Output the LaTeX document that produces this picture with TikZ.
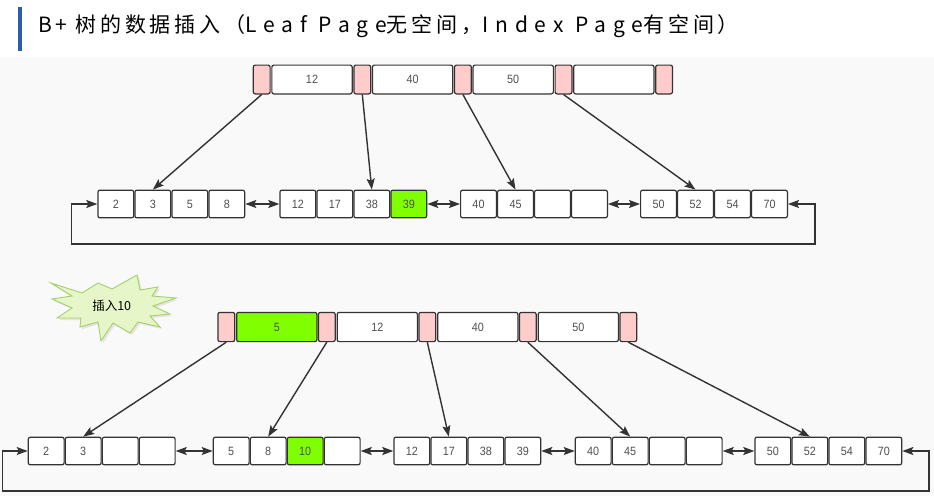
\documentclass[tikz,border=0pt]{standalone}
\usepackage{fontspec}
\setmainfont{Liberation Sans}
\newfontfamily\tcjk[LetterSpace=18]{Noto Sans CJK SC}
\newfontfamily\tlat[LetterSpace=33]{Noto Sans CJK SC}
\newfontfamily\cjk{Noto Sans CJK SC}
\newfontfamily\numfont[FakeStretch=0.9]{Liberation Sans}
\usetikzlibrary{arrows.meta}
\definecolor{bord}{HTML}{333333}
\definecolor{ptrpink}{HTML}{FFCCCC}
\definecolor{lime}{HTML}{80FF00}
\definecolor{txt}{HTML}{505050}
\definecolor{bg}{HTML}{F9F9F9}
\definecolor{titleblue}{HTML}{2B5CAF}
\definecolor{starfill}{HTML}{E6F6C8}
\definecolor{starline}{HTML}{A5CF6A}
\tikzset{
  cellbase/.style={draw=bord, line width=1.2pt, rounded corners=2pt, minimum height=28.8pt,
    inner sep=0pt, font=\numfont\fontsize{12}{12}\selectfont, text=txt},
  ptr/.style={cellbase, fill=ptrpink, minimum width=16.8pt},
  keybox/.style={cellbase, fill=white, minimum width=80.3pt},
  leafcell/.style={cellbase, fill=white, minimum width=35.8pt, minimum height=27.6pt},
  hot/.style={fill=lime},
  tip/.tip={Stealth[length=11pt,width=8pt,inset=2pt]},
  link/.style={draw=bord, line width=1.4pt, -tip},
  dlink/.style={draw=bord, line width=1.4pt, tip-tip},
}
\begin{document}
\begin{tikzpicture}[x=1pt,y=-1pt]
\useasboundingbox (0,0) rectangle (934,496);
\fill[white] (0,0) rectangle (934,57);
\fill[bg] (0,57) rectangle (934,496);
% title
\fill[titleblue] (18,7) rectangle (22,51);
\node[anchor=base west, inner sep=0pt, text=black] (title) at (38,32.5)
  {\fontsize{21}{21}\selectfont\tlat B\hspace{4pt}+\hspace{8pt}\tcjk 树的数据插入（\tlat Leaf Page\tcjk 无空间，\tlat Index Page\tcjk 有空间）};

% ---------- top index page ----------
\node[ptr] (tp1) at (261.7,79.5) {};
\node[keybox] (tk1) at (312.0,79.5) {12};
\node[ptr] (tp2) at (362.3,79.5) {};
\node[keybox] (tk2) at (412.6,79.5) {40};
\node[ptr] (tp3) at (462.9,79.5) {};
\node[keybox] (tk3) at (513.2,79.5) {50};
\node[ptr] (tp4) at (563.5,79.5) {};
\node[keybox] (tk4) at (613.8,79.5) {};
\node[ptr] (tp5) at (664.1,79.5) {};

% ---------- top leaves ----------
\node[leafcell] (ta1) at (115.8,204) {2};
\node[leafcell] (ta2) at (152.8,204) {3};
\node[leafcell] (ta3) at (189.8,204) {5};
\node[leafcell] (ta4) at (226.8,204) {8};
\node[leafcell] (tb1) at (297.8,204) {12};
\node[leafcell] (tb2) at (334.8,204) {17};
\node[leafcell] (tb3) at (371.8,204) {38};
\node[leafcell,hot] (tb4) at (408.8,204) {39};
\node[leafcell] (tc1) at (478.5,204) {40};
\node[leafcell] (tc2) at (515.5,204) {45};
\node[leafcell] (tc3) at (552.5,204) {};
\node[leafcell] (tc4) at (589.5,204) {};
\node[leafcell] (td1) at (658.5,204) {50};
\node[leafcell] (td2) at (695.5,204) {52};
\node[leafcell] (td3) at (732.5,204) {54};
\node[leafcell] (td4) at (769.5,204) {70};

\draw[link] (tp1.south) -- (ta2.north);
\draw[link] (tp2.south) -- (tb3.north);
\draw[link] (tp3.south) -- (tc2.north);
\draw[link] (tp4.south) -- (td2.north);
\draw[dlink] (ta4.east) -- (tb1.west);
\draw[dlink] (tb4.east) -- (tc1.west);
\draw[dlink] (tc4.east) -- (td1.west);
\coordinate (tl) at ([xshift=-25.6pt]ta1.west);
\coordinate (tr) at ([xshift=27pt]td4.east);
\draw[dlink] (ta1.west) -- (tl) -- ++(0,40) -| (tr) -- (td4.east);

% ---------- star ----------
\fill[black!25, opacity=0.35] (53,285) -- (84,295) -- (100,285) -- (114,291) -- (139,277) -- (142,292)
  -- (160,289) -- (154,298) -- (178,300) -- (155,308) -- (172,316) -- (152,318) -- (162,329)
  -- (140,324) -- (132,335) -- (115,325) -- (103,343) -- (100,324) -- (82,329) -- (83,320)
  -- (59,320) -- (74,310) -- (54,301) -- (74,298) -- cycle;
\draw[starline, fill=starfill, line width=0.9pt, line join=miter]
  (51,283) -- (82,293) -- (98,283) -- (112,289) -- (137,275) -- (140,290)
  -- (158,287) -- (152,296) -- (176,298) -- (153,306) -- (170,314) -- (150,316) -- (160,327)
  -- (138,322) -- (130,333) -- (113,323) -- (101,341) -- (98,322) -- (80,327) -- (81,318)
  -- (57,318) -- (72,308) -- (52,299) -- (72,296) -- cycle;
\node[inner sep=0pt, text=black] (ins) at (111.7,306) {\cjk\fontsize{12.5}{12.5}\selectfont 插入10};

% ---------- bottom index page ----------
\node[ptr,minimum height=29.2pt] (bp1) at (226.3,327) {};
\node[keybox,hot,minimum height=29.2pt] (bk1) at (276.8,327) {5};
\node[ptr,minimum height=29.2pt] (bp2) at (326.8,327) {};
\node[keybox,minimum height=29.2pt] (bk2) at (377.3,327) {12};
\node[ptr,minimum height=29.2pt] (bp3) at (427.3,327) {};
\node[keybox,minimum height=29.2pt] (bk3) at (477.8,327) {40};
\node[ptr,minimum height=29.2pt] (bp4) at (527.8,327) {};
\node[keybox,minimum height=29.2pt] (bk4) at (578.3,327) {50};
\node[ptr,minimum height=29.2pt] (bp5) at (628.3,327) {};

% ---------- bottom leaves ----------
\node[leafcell] (ba1) at (46.2,451) {2};
\node[leafcell] (ba2) at (83.2,451) {3};
\node[leafcell] (ba3) at (120.2,451) {};
\node[leafcell] (ba4) at (157.2,451) {};
\node[leafcell] (bb1) at (231.2,451) {5};
\node[leafcell] (bb2) at (268.2,451) {8};
\node[leafcell,hot] (bb3) at (305.2,451) {10};
\node[leafcell] (bb4) at (342.2,451) {};
\node[leafcell] (bc1) at (411.8,451) {12};
\node[leafcell] (bc2) at (448.8,451) {17};
\node[leafcell] (bc3) at (485.8,451) {38};
\node[leafcell] (bc4) at (522.8,451) {39};
\node[leafcell] (bd1) at (593.2,451) {40};
\node[leafcell] (bd2) at (630.2,451) {45};
\node[leafcell] (bd3) at (667.2,451) {};
\node[leafcell] (bd4) at (704.2,451) {};
\node[leafcell] (be1) at (772.8,451) {50};
\node[leafcell] (be2) at (809.8,451) {52};
\node[leafcell] (be3) at (846.8,451) {54};
\node[leafcell] (be4) at (883.8,451) {70};

\draw[link] (bp1.south) -- (ba2.north);
\draw[link] (bp2.south) -- (bb2.north);
\draw[link] (bp3.south) -- (bc2.north);
\draw[link] (bp4.south) -- (bd2.north);
\draw[link] (bp5.south) -- (be2.north);
\draw[dlink] (ba4.east) -- (bb1.west);
\draw[dlink] (bb4.east) -- (bc1.west);
\draw[dlink] (bc4.east) -- (bd1.west);
\draw[dlink] (bd4.east) -- (be1.west);
\coordinate (bl) at ([xshift=-25.3pt]ba1.west);
\coordinate (br) at ([xshift=26.6pt]be4.east);
\draw[dlink] (ba1.west) -- (bl) -- ++(0,40) -| (br) -- (be4.east);
\end{tikzpicture}
\end{document}
